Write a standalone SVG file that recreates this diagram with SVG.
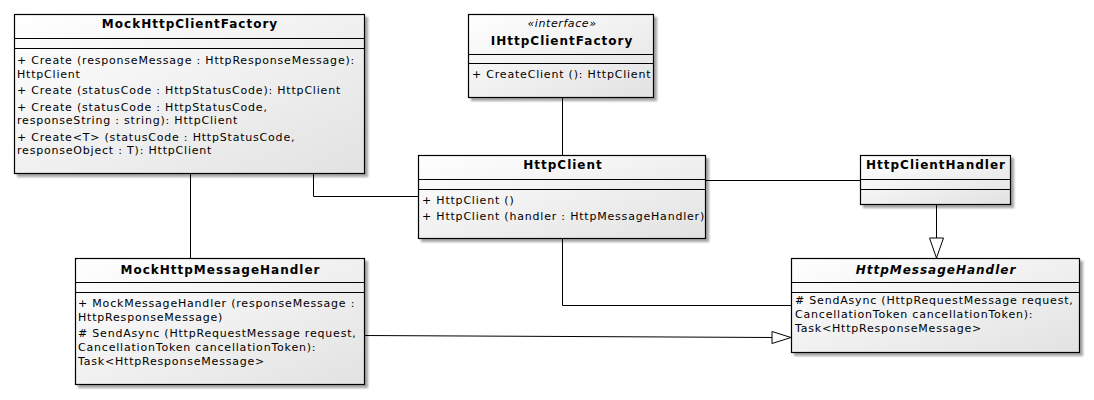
<svg xmlns="http://www.w3.org/2000/svg" width="1094" height="400" viewBox="0 0 1094 400">
<defs>
<linearGradient id="g" x1="0" y1="0" x2="1" y2="1">
<stop offset="0" stop-color="#ffffff"/>
<stop offset="1" stop-color="#e2e2e2"/>
</linearGradient>
<filter id="sh" x="-5%" y="-5%" width="115%" height="120%">
<feGaussianBlur in="SourceAlpha" stdDeviation="1.2"/>
<feOffset dx="3" dy="3" result="b"/>
<feComponentTransfer><feFuncA type="linear" slope="0.35"/></feComponentTransfer>
<feMerge><feMergeNode/><feMergeNode in="SourceGraphic"/></feMerge>
</filter>
</defs>
<style>
.box{fill:url(#g);stroke:#000;stroke-width:1.2;filter:url(#sh)}
.sep{stroke:#000;stroke-width:1}
.t{font-family:"DejaVu Sans",Verdana,sans-serif;font-size:12px;font-weight:bold;text-anchor:middle;fill:#000;letter-spacing:1px}
.ti{font-style:italic}
.st{font-family:"DejaVu Sans",Verdana,sans-serif;font-size:11px;font-style:italic;text-anchor:middle;fill:#000;letter-spacing:0.6px}
.m{font-family:"DejaVu Sans",Verdana,sans-serif;font-size:11px;fill:#000;letter-spacing:0.8px}
.c{fill:none;stroke:#000;stroke-width:1}
.tri{fill:#fff;stroke:#000;stroke-width:1}
</style>
<rect width="1094" height="400" fill="#fff"/>
<g id="connectors">
<path class="c" d="M190.5 173 V258"/>
<path class="c" d="M313.5 173 V196.5 H418"/>
<path class="c" d="M562.5 97 V155"/>
<path class="c" d="M706 180.5 H860"/>
<path class="c" d="M562.5 238 V305.5 H791"/>
<path class="c" d="M936.5 204 V238"/>
<polygon class="tri" points="929.5,238 943.5,238 936.5,258"/>
<path class="c" d="M364 335.5 L772 337.5"/>
<polygon class="tri" points="772,331.5 772,343.5 791,337.5"/>
</g>
<g id="MockHttpClientFactory">
<rect class="box" x="14.5" y="14.5" width="350" height="159"/>
<line class="sep" x1="14.5" y1="38.5" x2="364.5" y2="38.5"/>
<line class="sep" x1="14.5" y1="48.5" x2="364.5" y2="48.5"/>
<text class="t" x="190" y="28">MockHttpClientFactory</text>
<text class="m" x="17" y="64">+ Create (responseMessage : HttpResponseMessage):</text>
<text class="m" x="17" y="77.5">HttpClient</text>
<text class="m" x="17" y="94">+ Create (statusCode : HttpStatusCode): HttpClient</text>
<text class="m" x="17" y="110.5">+ Create (statusCode : HttpStatusCode,</text>
<text class="m" x="17" y="124">responseString : string): HttpClient</text>
<text class="m" x="17" y="140.5">+ Create&lt;T&gt; (statusCode : HttpStatusCode,</text>
<text class="m" x="17" y="154">responseObject : T): HttpClient</text>
</g>
<g id="IHttpClientFactory">
<rect class="box" x="468.5" y="14.5" width="185" height="83"/>
<line class="sep" x1="468.5" y1="54.5" x2="653.5" y2="54.5"/>
<line class="sep" x1="468.5" y1="63.5" x2="653.5" y2="63.5"/>
<text class="st" x="562" y="27">«interface»</text>
<text class="t" x="562" y="45">IHttpClientFactory</text>
<text class="m" x="472" y="78">+ CreateClient (): HttpClient</text>
</g>
<g id="HttpClient">
<rect class="box" x="418.5" y="155.5" width="287" height="83"/>
<line class="sep" x1="418.5" y1="179.5" x2="705.5" y2="179.5"/>
<line class="sep" x1="418.5" y1="189.5" x2="705.5" y2="189.5"/>
<text class="t" x="563" y="169">HttpClient</text>
<text class="m" x="422" y="204">+ HttpClient ()</text>
<text class="m" x="422" y="220">+ HttpClient (handler : HttpMessageHandler)</text>
</g>
<g id="HttpClientHandler">
<rect class="box" x="860.5" y="155.5" width="150" height="49"/>
<line class="sep" x1="860.5" y1="179.5" x2="1010.5" y2="179.5"/>
<line class="sep" x1="860.5" y1="189.5" x2="1010.5" y2="189.5"/>
<text class="t" x="936" y="169">HttpClientHandler</text>
</g>
<g id="MockHttpMessageHandler">
<rect class="box" x="75.5" y="258.5" width="289" height="126"/>
<line class="sep" x1="75.5" y1="282.5" x2="364.5" y2="282.5"/>
<line class="sep" x1="75.5" y1="292.5" x2="364.5" y2="292.5"/>
<text class="t" x="220.5" y="274">MockHttpMessageHandler</text>
<text class="m" x="78" y="307">+ MockMessageHandler (responseMessage :</text>
<text class="m" x="78" y="320.5">HttpResponseMessage)</text>
<text class="m" x="78" y="337"># SendAsync (HttpRequestMessage request,</text>
<text class="m" x="78" y="351">CancellationToken cancellationToken):</text>
<text class="m" x="78" y="364.5">Task&lt;HttpResponseMessage&gt;</text>
</g>
<g id="HttpMessageHandler">
<rect class="box" x="791.5" y="258.5" width="288" height="94"/>
<line class="sep" x1="791.5" y1="282.5" x2="1079.5" y2="282.5"/>
<line class="sep" x1="791.5" y1="292.5" x2="1079.5" y2="292.5"/>
<text class="t ti" x="936" y="274">HttpMessageHandler</text>
<text class="m" x="795" y="304"># SendAsync (HttpRequestMessage request,</text>
<text class="m" x="795" y="318">CancellationToken cancellationToken):</text>
<text class="m" x="795" y="332">Task&lt;HttpResponseMessage&gt;</text>
</g>
</svg>
